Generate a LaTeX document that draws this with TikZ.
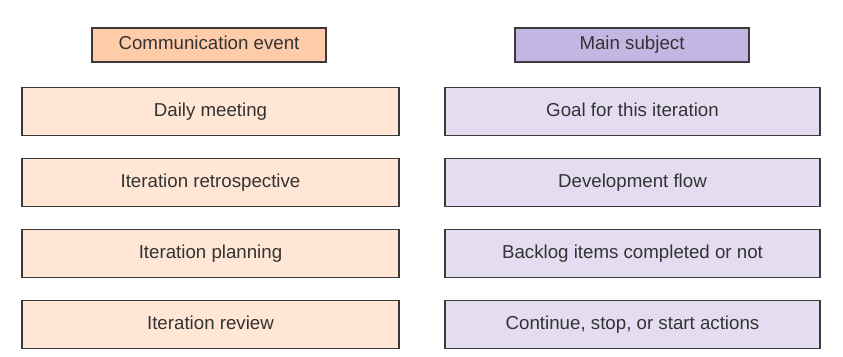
\documentclass[tikz,border=0pt]{standalone}
\usepackage{fontspec}
\setmainfont{Liberation Sans}
\usepackage{xcolor}
\usetikzlibrary{positioning}

\definecolor{eventhead}{HTML}{FFCCAA}
\definecolor{eventfill}{HTML}{FFE6D5}
\definecolor{subjhead}{HTML}{C4B6E2}
\definecolor{subjfill}{HTML}{E4DDF2}
\definecolor{boxline}{HTML}{3A3A3A}
\definecolor{textgray}{HTML}{333333}

\begin{document}
\begin{tikzpicture}[
  x=1pt, y=1pt,
  node distance=22pt,
  box/.style={rectangle, draw=boxline, line width=1.1pt, minimum width=377pt, minimum height=48pt, inner sep=0pt, align=center, text=textgray, text height=13.5pt, text depth=3.5pt, font=\fontsize{18.7}{22}\selectfont},
  headbox/.style={box, minimum width=234pt, minimum height=34pt},
  eventbox/.style={box, fill=eventfill},
  subjbox/.style={box, fill=subjfill, minimum width=375pt}
]
  \useasboundingbox (0,0) rectangle (843,356);
  % left column
  \node[headbox, fill=eventhead] (EventHead) at (209,311) {Communication event};
  \node[eventbox, below=24pt of EventHead, xshift=1.5pt] (Daily) {Daily meeting};
  \node[eventbox, below=of Daily] (Retro) {Iteration retrospective};
  \node[eventbox, below=of Retro] (Planning) {Iteration planning};
  \node[eventbox, below=of Planning] (Review) {Iteration review};
  % right column
  \node[headbox, fill=subjhead] (SubjHead) at (632,311) {Main subject};
  \node[subjbox, below=24pt of SubjHead, xshift=0.5pt] (Goal) {Goal for this iteration};
  \node[subjbox, below=of Goal] (Flow) {Development flow};
  \node[subjbox, below=of Flow] (Backlog) {Backlog items completed or not};
  \node[subjbox, below=of Backlog] (Actions) {Continue, stop, or start actions};
\end{tikzpicture}
\end{document}
